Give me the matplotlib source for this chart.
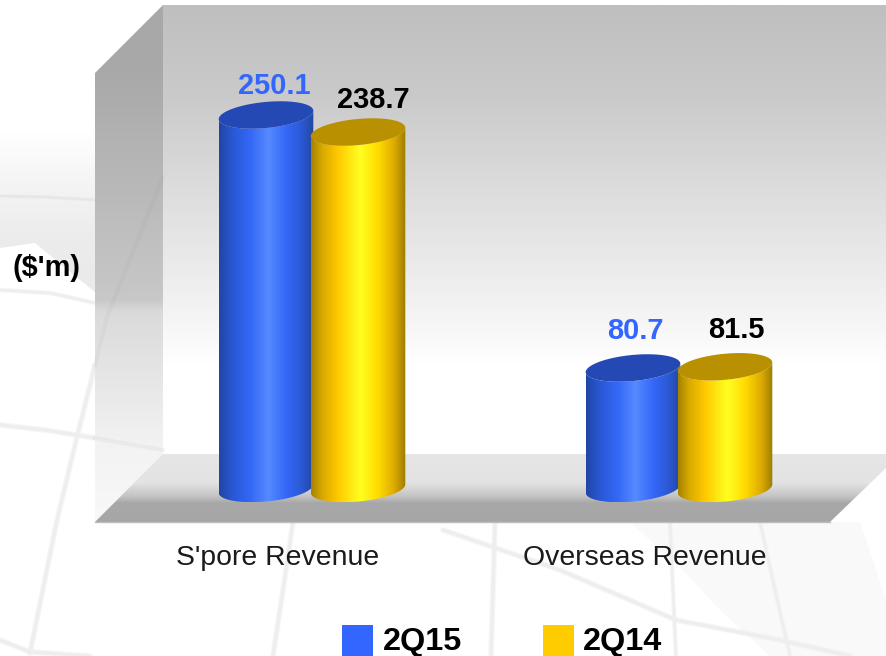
import numpy as np
import matplotlib
matplotlib.use("Agg")
import matplotlib.pyplot as plt
from matplotlib.colors import LinearSegmentedColormap
from matplotlib.patches import Polygon, Patch

plt.rcParams["font.family"] = ["Liberation Sans", "DejaVu Sans"]

# chart data
categories = ["S'pore Revenue", "Overseas Revenue"]
values_2q15 = [250.1, 80.7]
values_2q14 = [238.7, 81.5]
series_names = ["2Q15", "2Q14"]
value_unit = "($'m)"

# picture geometry, pixels
W, H = 886, 656
PX_PER_VALUE = 1.4935
BASE_Y = 488.5
FLOOR_Y = 522
TOP_Y = 5
CAT_X0 = 278
PX_PER_CAT = 367
BAR_RX = 47.5
BAR_RY = 13
TILT = np.radians(5.5)

# label nudges (dx, dy) in pixels from the centre of each cylinder top
offsets_2q15 = [(8.5, 29), (2.5, 37)]
offsets_2q14 = [(15, 32), (11, 37)]

blue_grad = LinearSegmentedColormap.from_list("b", [
    (0, "#1f45a6"), (0.14, "#2a58d2"), (0.32, "#3266f5"), (0.52, "#558aff"),
    (0.72, "#3366f8"), (0.88, "#2b58d0"), (1, "#22479f")])
gold_grad = LinearSegmentedColormap.from_list("g", [
    (0, "#a58300"), (0.12, "#d9aa00"), (0.28, "#ffc800"), (0.52, "#ffff20"),
    (0.72, "#ffd800"), (0.88, "#dcaa00"), (1, "#9c7c00")])
back_grad = LinearSegmentedColormap.from_list("w", [
    (0, "#bfbfbf"), (0.2, "#cacaca"), (0.45, "#e0e0e0"), (0.7, "#f5f5f5"),
    (0.8, "#ffffff"), (1, "#ffffff")])
side_grad = LinearSegmentedColormap.from_list("s", [
    (0, "#a8a8a8"), (0.13, "#a9a9a9"), (0.57, "#c8c8c8"), (0.594, "#dadada"),
    (0.86, "#f3f3f3"), (1, "#f8f8f8")])
floor_grad = LinearSegmentedColormap.from_list("f", [
    (0, "#e6e6e6"), (0.42, "#e3e3e3"), (0.62, "#c4c4c4"), (0.72, "#a8a8a8"), (1, "#a6a6a6")])
land_grad = LinearSegmentedColormap.from_list("l", ["#ffffff", "#f4f4f4", "#ececec", "#eaeaea"])


def gradient_patch(ax, verts, cmap, zorder=2):
    """Fill a polygon with a vertical gradient."""
    verts = np.asarray(verts)
    ramp = np.linspace(0, 1, 256)[:, None]
    x0, x1 = verts[:, 0].min(), verts[:, 0].max()
    y0, y1 = verts[:, 1].min(), verts[:, 1].max()
    im = ax.imshow(ramp, cmap=cmap, vmin=0, vmax=1, aspect="auto", origin="upper",
                   extent=(x0, x1, y1, y0), interpolation="bilinear", zorder=zorder)
    im.set_clip_path(Polygon(verts, transform=ax.transData))
    return im


def soft_line(ax, xs, ys, lw, colour="#eeeeee", zorder=1.5):
    # wide pale stroke under a narrower one, the globe lines are blurred
    ax.plot(xs, ys, color=colour, lw=lw * 1.7, alpha=0.45, zorder=zorder, solid_capstyle="round")
    ax.plot(xs, ys, color=colour, lw=lw, zorder=zorder, solid_capstyle="round")


def draw_background(bg):
    # faint globe behind the chart
    gradient_patch(bg, [(0, 132), (95, 132), (95, 292), (80, 280), (35, 243), (0, 248)], land_grad, zorder=1)
    bg.fill([630, 860, 886, 886, 770, 720, 683], [522, 522, 600, 656, 656, 610, 570],
            color="#f9f9f9", lw=0, zorder=1)
    soft_line(bg, [0, 45, 95], [196, 197, 200], 1.5, "#e6e6e6")
    soft_line(bg, [0, 50, 95], [290, 293, 303], 2)
    soft_line(bg, [0, 45, 95], [425, 430, 438], 2.5)
    soft_line(bg, [95, 77, 57, 30], [365, 437, 520, 653], 2.5)
    soft_line(bg, [0, 30, 90], [640, 652, 656], 2.5)
    soft_line(bg, [293, 283, 273], [522, 590, 656], 2.5)
    soft_line(bg, [495, 493, 491], [522, 590, 656], 2.5)
    soft_line(bg, [443, 560, 676, 780, 850], [530, 570, 620, 640, 656], 2.5)
    soft_line(bg, [670, 673, 676], [522, 590, 656], 2)
    soft_line(bg, [760, 775, 790], [522, 590, 656], 2)

    gradient_patch(bg, [(163, TOP_Y), (W, TOP_Y), (W, 455), (163, 455)], back_grad)
    gradient_patch(bg, [(95, 73), (163, TOP_Y), (163, 457), (95, FLOOR_Y)], side_grad)
    # the globe shows through the side wall
    bg.plot([163, 107, 95], [177, 317, 365], color="#8c8c8c", alpha=0.07, lw=3, zorder=2.5)
    bg.plot([95, 163], [438, 450], color="#8c8c8c", alpha=0.08, lw=3, zorder=2.5)
    gradient_patch(bg, [(163, 454), (W, 454), (W, 468), (830, FLOOR_Y), (95, FLOOR_Y)], floor_grad, zorder=3)
    bg.plot([95, 830], [FLOOR_Y, FLOOR_Y], color="#bdbdbd", lw=1, zorder=3)


def cylinder(ax, x_center, value, cmap, top_color):
    """Tilted cylinder; sizes are converted from pixels to data units."""
    rx = BAR_RX / PX_PER_CAT
    t = np.linspace(0, 2 * np.pi, 181)
    dx = (BAR_RX * np.cos(t) * np.cos(TILT) + BAR_RY * np.sin(t) * np.sin(TILT)) / PX_PER_CAT
    dy = (BAR_RX * np.cos(t) * np.sin(TILT) - BAR_RY * np.sin(t) * np.cos(TILT)) / PX_PER_VALUE
    # lower half of the outline, from the left end round to the right end
    lower = (t >= 0) & (t <= np.pi)
    low_dx, low_dy = dx[lower], dy[lower]
    order = np.argsort(low_dx)
    low_dx, low_dy = low_dx[order], low_dy[order]

    body = np.r_[np.c_[x_center + low_dx, low_dy],
                 np.c_[x_center + low_dx[::-1], value + low_dy[::-1]]]
    gradient = np.linspace(0, 1, 256)[None, :]
    im = ax.imshow(gradient, cmap=cmap, vmin=0, vmax=1, aspect="auto", interpolation="bilinear",
                   extent=(x_center - rx, x_center + rx, body[:, 1].min(), body[:, 1].max()),
                   zorder=4)
    im.set_clip_path(Polygon(body, transform=ax.transData))
    ax.fill(x_center + dx, value + dy, color=top_color, lw=0, zorder=4)


fig = plt.figure(figsize=(W / 100, H / 100), dpi=100, facecolor="white")

bg = fig.add_axes([0, 0, 1, 1], zorder=0)
draw_background(bg)
bg.set_xlim(0, W)
bg.set_ylim(H, 0)
bg.axis("off")

ax = fig.add_axes([0, 1 - FLOOR_Y / H, 1, (FLOOR_Y - TOP_Y) / H], zorder=1)
ax.patch.set_visible(False)

bar_dx = [(266 - CAT_X0) / PX_PER_CAT, (358 - CAT_X0) / PX_PER_CAT]
for values, cmap, top, dx_cat, offsets, colour in [
    (values_2q15, blue_grad, "#2449b4", bar_dx[0], offsets_2q15, "#3366ff"),
    (values_2q14, gold_grad, "#b99000", bar_dx[1], offsets_2q14, "black"),
]:
    for i, v in enumerate(values):
        cylinder(ax, i + dx_cat, v, cmap, top)
        ax.annotate(f"{v:.1f}", (i + dx_cat, v), xytext=offsets[i], textcoords="offset pixels",
                    ha="center", va="center", fontsize=20.9, fontweight="bold", color=colour,
                    zorder=6, annotation_clip=False)

ax.set_xlim(-CAT_X0 / PX_PER_CAT, (W - CAT_X0) / PX_PER_CAT)
ax.set_ylim((BASE_Y - FLOOR_Y) / PX_PER_VALUE, (BASE_Y - TOP_Y) / PX_PER_VALUE)

ax.set_xticks(range(len(categories)), categories)
ax.tick_params(axis="x", length=0, pad=16.5, labelsize=20.4, labelcolor="#1a1a1a")
ax.set_yticks([])
for spine in ax.spines.values():
    spine.set_visible(False)

ax.set_ylabel(value_unit, rotation=0, fontsize=20.9, fontweight="bold", ha="center", va="center")
ax.yaxis.set_label_coords(47 / W, (FLOOR_Y - 268) / (FLOOR_Y - TOP_Y))

handles = [Patch(facecolor="#3366ff", lw=0), Patch(facecolor="#ffcc00", lw=0)]
leg = fig.legend(handles, series_names, loc="lower left", bbox_to_anchor=(342 / W, -1 / H), ncol=2,
                 frameon=False, borderpad=0, borderaxespad=0, handlelength=0.97, handleheight=1.0,
                 handletextpad=0.28, columnspacing=2.5,
                 prop={"size": 23.3, "weight": "bold"})
# squares run off the bottom edge in the reference
for patch in leg.get_patches():
    patch.set_y(-5)
    patch.set_height(23)

fig.savefig("out.png", dpi=100, facecolor="white")
